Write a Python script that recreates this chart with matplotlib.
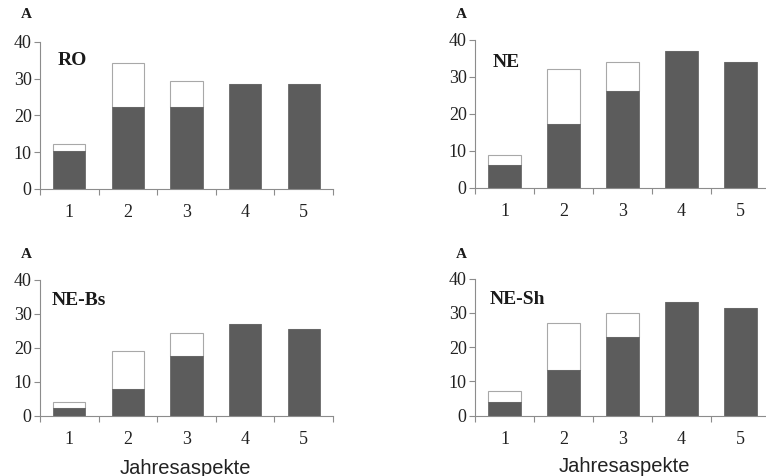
import numpy as np
import matplotlib.pyplot as plt
from matplotlib.ticker import FixedLocator, NullFormatter

# Data: dark part and total height of each bar
aspekte = ['1', '2', '3', '4', '5']
ro_dark = [10.2, 22.2, 22.2, 28.4, 28.4]
ro_total = [12.2, 34.1, 29.3, 28.4, 28.4]
ne_dark = [6.1, 17.3, 26.1, 37.1, 34.0]
ne_total = [8.8, 32.1, 34.0, 37.1, 34.0]
nebs_dark = [2.4, 8.0, 17.5, 27.1, 25.4]
nebs_total = [4.2, 19.0, 24.4, 27.1, 25.4]
nesh_dark = [4.0, 13.3, 23.1, 33.1, 31.4]
nesh_total = [7.1, 27.0, 29.9, 33.1, 31.4]
panel_names = ['RO', 'NE', 'NE-Bs', 'NE-Sh']

serif = 'Liberation Serif'
dark = '#5c5c5c'
edge = '#a8a8a8'
axcol = '#8c8c8c'

W, H = 766, 476
fig = plt.figure(figsize=(W / 100, H / 100), dpi=100)


def px_axes(left, top, right, bottom):
    return fig.add_axes([left / W, 1 - bottom / H, (right - left) / W, (bottom - top) / H])


boxes = [(40, 41.7, 333, 189), (475, 40, 770, 188),
         (40, 279.7, 333, 416), (475, 278.7, 770, 415.7)]
label_pos = [(0.8, 35), (0.8, 34), (0.7, 34), (0.75, 33.8)]
a_pos = [(26, 15), (461, 15), (26, 255), (461, 255)]
series = [(ro_dark, ro_total), (ne_dark, ne_total),
          (nebs_dark, nebs_total), (nesh_dark, nesh_total)]

x = np.arange(1, len(aspekte) + 1)
for i, (box, (d, t)) in enumerate(zip(boxes, series)):
    ax = px_axes(*box)
    d = np.array(d)
    t = np.array(t)
    ax.bar(x, t - d, bottom=d, width=0.55, color='white', edgecolor=edge, linewidth=0.8)
    ax.bar(x, d, width=0.55, color=dark, edgecolor=dark, linewidth=0.5)
    ax.set_xlim(0.5, 5.5)
    ax.set_ylim(0, 40)
    ax.set_yticks([0, 10, 20, 30, 40])
    ax.xaxis.set_major_locator(FixedLocator(np.arange(0.5, 6, 1)))
    ax.xaxis.set_major_formatter(NullFormatter())
    ax.set_xticks(x, minor=True)
    ax.set_xticklabels(aspekte, minor=True)
    ax.tick_params(axis='x', which='major', direction='out', length=4, width=0.8, color=axcol)
    ax.tick_params(axis='x', which='minor', length=0, pad=11)
    ax.tick_params(axis='y', direction='out', length=4, width=0.8, color=axcol, pad=2)
    for lab in ax.get_xticklabels(minor=True) + ax.get_yticklabels():
        lab.set_fontfamily(serif)
        lab.set_fontsize(13)
        lab.set_color('#222222')
    for s in ['top', 'right']:
        ax.spines[s].set_visible(False)
    for s in ['left', 'bottom']:
        ax.spines[s].set_color(axcol)
        ax.spines[s].set_linewidth(0.8)
    ax.set_facecolor('none')
    ax.text(*label_pos[i], panel_names[i], fontfamily=serif, fontweight='bold',
            fontsize=14, ha='left', va='center', color='#1a1a1a')
    fig.text(a_pos[i][0] / W, 1 - a_pos[i][1] / H, 'A', fontfamily=serif,
             fontweight='bold', fontsize=11, ha='center', va='center', color='#1a1a1a')

fig.text(185 / W, 1 - 468 / H, 'Jahresaspekte', fontfamily='Liberation Sans',
         fontsize=14.5, ha='center', va='center', color='#222222')
fig.text(624 / W, 1 - 467 / H, 'Jahresaspekte', fontfamily='Liberation Sans',
         fontsize=14.5, ha='center', va='center', color='#222222')

fig.savefig('out.png', dpi=100)
